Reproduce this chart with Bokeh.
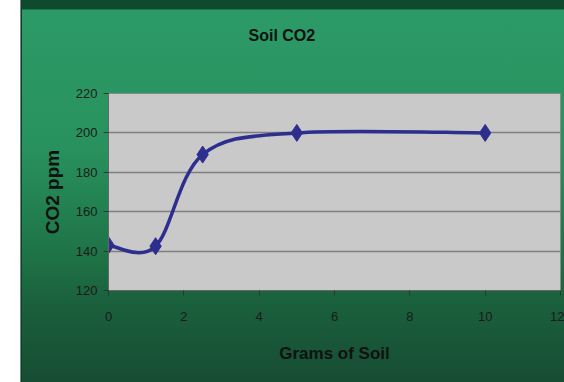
from bokeh.plotting import figure
from bokeh.models import Range1d, FixedTicker, Title
from bokeh.embed import file_html
from bokeh.resources import INLINE

# Data
grams = [0, 1.25, 2.5, 5, 10]
co2_ppm = [143, 142.5, 189, 200, 200]
x_ticks = [0, 2, 4, 6, 8, 10, 12]
y_ticks = [120, 140, 160, 180, 200, 220]
title_text = "Soil CO2"

# Smoothed line (Excel-like Catmull-Rom bezier segments) built from the data
n = len(grams)
x0, y0, x1, y1, cx0, cy0, cx1, cy1 = [], [], [], [], [], [], [], []
for i in range(n - 1):
    a = max(i - 1, 0)
    d = min(i + 2, n - 1)
    x0.append(grams[i]); y0.append(co2_ppm[i])
    x1.append(grams[i + 1]); y1.append(co2_ppm[i + 1])
    cx0.append(grams[i] + (grams[i + 1] - grams[a]) / 6)
    cy0.append(co2_ppm[i] + (co2_ppm[i + 1] - co2_ppm[a]) / 6)
    cx1.append(grams[i + 1] - (grams[d] - grams[i]) / 6)
    cy1.append(co2_ppm[i + 1] - (co2_ppm[d] - co2_ppm[i]) / 6)

FONT = "Liberation Sans"

p = figure(width=544, height=382, x_range=Range1d(0, 12), y_range=Range1d(120, 220),
           title=None, output_backend="svg", toolbar_location=None,
           min_border_left=88, min_border_right=4, min_border_top=93, min_border_bottom=92)
p.margin = (0, 0, 0, 20)
p.styles = {
    "background": "linear-gradient(to right, #6f8f7c 0px, #6f8f7c 1px, #0f3f27 1px, #0f3f27 2px, transparent 2px), "
                  "linear-gradient(to bottom, #0f4a2e 0px, #0f4a2e 9px, #2c9a67 10px, #28925e 38%, "
                  "#1f7447 66%, #1a5f3c 80%, #174d33 100%)"
}
p.border_fill_alpha = 0
p.background_fill_color = "#c9c9c9"
p.outline_line_color = "#8a8a8a"

# Blank spacer next to the frame, then the chart title above it
p.add_layout(Title(text=" ", text_font=FONT, text_font_size="16px", standoff=26), "above")
p.add_layout(Title(text=title_text, align="left", offset=140, standoff=10,
                   text_font=FONT, text_font_size="16px", text_font_style="bold",
                   text_color="#111111"), "above")

p.xgrid.visible = False
p.ygrid.grid_line_color = "#7f7f7f"
p.ygrid.grid_line_width = 1.5
p.ygrid.ticker = FixedTicker(ticks=y_ticks)

p.xaxis.ticker = FixedTicker(ticks=x_ticks)
p.yaxis.ticker = FixedTicker(ticks=y_ticks)
p.xaxis.axis_label = "Grams of Soil"
p.yaxis.axis_label = "CO2 ppm"
for ax in (p.xaxis, p.yaxis):
    ax.axis_line_color = "#666666"
    ax.major_tick_line_color = "#333333"
    ax.major_tick_out = 5
    ax.major_tick_in = 0
    ax.minor_tick_line_color = None
    ax.major_label_text_font = FONT
    ax.major_label_text_font_size = "13px"
    ax.major_label_text_color = "#1a1a1a"
    ax.axis_label_text_font = FONT
    ax.axis_label_text_font_style = "bold"
    ax.axis_label_text_color = "#111111"
p.xaxis.axis_label_text_font_size = "17px"
p.yaxis.axis_label_text_font_size = "19px"
p.xaxis.major_label_standoff = 16
p.xaxis.axis_label_standoff = 20
p.yaxis.major_label_standoff = 6
p.yaxis.axis_label_standoff = 10

line_color = "#2e2e8f"
p.bezier(x0=x0, y0=y0, x1=x1, y1=y1, cx0=cx0, cy0=cy0, cx1=cx1, cy1=cy1,
         line_color=line_color, line_width=3.5)
p.scatter(grams, co2_ppm, marker="diamond", size=17,
          fill_color=line_color, line_color=line_color)

open("out.html", "w").write(file_html(p, INLINE))
